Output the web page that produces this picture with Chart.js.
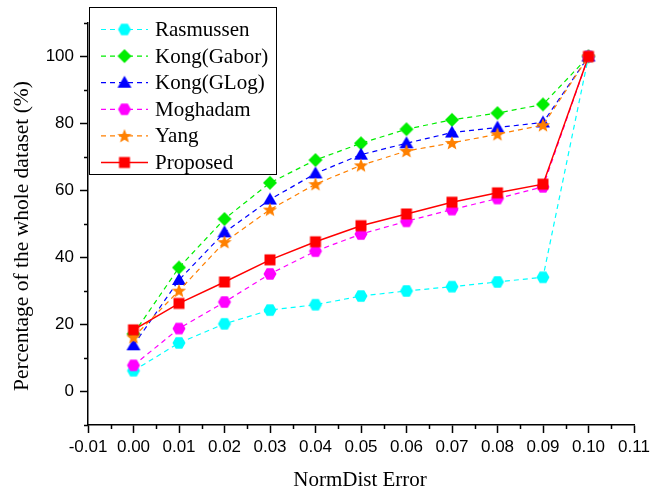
<!DOCTYPE html>
<html>
<head>
<meta charset="utf-8">
<script src="https://cdn.jsdelivr.net/npm/chart.js@4.4.1/dist/chart.umd.min.js"></script>
<style>
  html, body { margin: 0; padding: 0; background: #fff; }
  #wrap { width: 662px; height: 491px; position: relative; }
</style>
</head>
<body>
<div id="wrap"><canvas id="myChart"></canvas></div>
<script>
// data
var xValues = [0.00, 0.01, 0.02, 0.03, 0.04, 0.05, 0.06, 0.07, 0.08, 0.09, 0.10];
var rasmussen = [6.2, 14.5, 20.2, 24.3, 25.9, 28.5, 30.0, 31.3, 32.7, 34.1, 100];
var kongGabor = [17.2, 37.0, 51.5, 62.3, 69.1, 74.1, 78.3, 81.1, 83.1, 85.7, 100];
var kongGLog = [13.8, 33.3, 47.5, 57.3, 65.1, 70.7, 74.1, 77.3, 78.8, 80.3, 100];
var moghadam = [7.8, 18.8, 26.7, 35.1, 41.9, 47.0, 50.8, 54.3, 57.6, 61.1, 100];
var yang = [16.2, 30.1, 44.6, 54.3, 61.9, 67.5, 71.8, 74.2, 76.8, 79.5, 100];
var proposed = [18.4, 26.3, 32.7, 39.3, 44.7, 49.5, 53.0, 56.5, 59.3, 61.9, 100];

var seriesNames = ['Rasmussen', 'Kong(Gabor)', 'Kong(GLog)', 'Moghadam', 'Yang', 'Proposed'];
var xTickLabels = ['-0.01', '0.00', '0.01', '0.02', '0.03', '0.04', '0.05', '0.06', '0.07', '0.08', '0.09', '0.10', '0.11'];
var yTickLabels = [0, 20, 40, 60, 80, 100];
var xTitle = 'NormDist Error';
var yTitle = 'Percentage of the whole dataset (%)';

// marker images
function marker(shape, color) {
  var c = document.createElement('canvas');
  c.width = 18; c.height = 18;
  var g = c.getContext('2d');
  var cx = 9, cy = 9, i, a;
  g.fillStyle = color;
  g.beginPath();
  if (shape === 'hex') {
    for (i = 0; i < 6; i++) {
      a = i * Math.PI / 3;
      g.lineTo(cx + 6.5 * Math.cos(a), cy + 6.5 * Math.sin(a));
    }
  } else if (shape === 'star') {
    for (i = 0; i < 10; i++) {
      a = -Math.PI / 2 + i * Math.PI / 5;
      var r = i % 2 === 0 ? 7.5 : 3.2;
      g.lineTo(cx + r * Math.cos(a), cy + 0.5 + r * Math.sin(a));
    }
  } else if (shape === 'diamond') {
    g.moveTo(cx, cy - 7); g.lineTo(cx + 7, cy); g.lineTo(cx, cy + 7); g.lineTo(cx - 7, cy);
  } else if (shape === 'triangle') {
    g.moveTo(cx, cy - 7); g.lineTo(cx + 7, cy + 5); g.lineTo(cx - 7, cy + 5);
  } else {
    g.rect(cx - 5.5, cy - 5.5, 11, 11);
  }
  g.closePath();
  g.fill();
  return c;
}

var colors = ['#00ffff', '#00ee00', '#0000ff', '#ff00ff', '#ff8000', '#ff0000'];
var shapes = ['hex', 'diamond', 'triangle', 'hex', 'star', 'square'];
var allSeries = [rasmussen, kongGabor, kongGLog, moghadam, yang, proposed];

function isMajorX(v) { return Math.round(v * 1000) % 10 === 0; }
function xLabel(v) { var s = (Math.round(v * 1000) / 1000).toFixed(2); return s === '-0.00' ? '0.00' : s; }

var datasets = allSeries.map(function(vals, i) {
  var img = marker(shapes[i], colors[i]);
  return {
    label: seriesNames[i],
    data: vals.map(function(v, j) { return {x: xValues[j], y: v}; }),
    borderColor: colors[i],
    backgroundColor: colors[i],
    borderWidth: i === 5 ? 1.5 : 1.2,
    borderDash: i === 5 ? [] : [5, 4],
    pointStyle: img,
    pointRadius: 7,
    order: 5 - i,
    tension: 0
  };
});

var minorTicks = {
  id: 'minorTicks',
  afterDraw: function(chart) {
    var ctx = chart.ctx, area = chart.chartArea;
    var xs = chart.scales.x, ys = chart.scales.y;
    ctx.save();
    ctx.strokeStyle = '#000';
    ctx.lineWidth = 1.5;
    xs.ticks.forEach(function(t) {
      if (!isMajorX(t.value)) {
        var px = Math.round(xs.getPixelForValue(t.value)) + 0.5;
        ctx.beginPath(); ctx.moveTo(px, area.bottom); ctx.lineTo(px, area.bottom + 4); ctx.stroke();
      }
    });
    ys.ticks.forEach(function(t) {
      if (yTickLabels.indexOf(Math.round(t.value)) < 0) {
        var py = Math.round(ys.getPixelForValue(t.value)) + 0.5;
        ctx.beginPath(); ctx.moveTo(area.left, py); ctx.lineTo(area.left - 4, py); ctx.stroke();
      }
    });
    ctx.restore();
  }
};

// axis titles, placed like the original figure
var axisTitles = {
  id: 'axisTitles',
  afterDraw: function(chart) {
    var ctx = chart.ctx, area = chart.chartArea;
    ctx.save();
    ctx.fillStyle = '#000';
    ctx.font = '21px "Liberation Serif"';
    ctx.textAlign = 'center';
    ctx.textBaseline = 'middle';
    ctx.fillText(xTitle, (area.left + area.right) / 2 - 1, 480);
    ctx.translate(22, 236);
    ctx.rotate(-Math.PI / 2);
    ctx.font = '21.5px "Liberation Serif"';
    ctx.fillText(yTitle, 0, 0);
    ctx.restore();
  }
};

var boxLegend = {
  id: 'boxLegend',
  afterDraw: function(chart) {
    var ctx = chart.ctx;
    ctx.save();
    ctx.fillStyle = '#fff';
    ctx.fillRect(89.5, 7.5, 187, 167);
    ctx.strokeStyle = '#000';
    ctx.lineWidth = 1;
    ctx.strokeRect(89.5, 7.5, 187, 167);
    ctx.font = '21px "Liberation Serif"';
    ctx.textBaseline = 'middle';
    chart.data.datasets.forEach(function(ds, i) {
      var y = 29.5 + i * 26.6;
      ctx.strokeStyle = ds.borderColor;
      ctx.lineWidth = ds.borderWidth;
      ctx.setLineDash(ds.borderDash);
      ctx.beginPath(); ctx.moveTo(101, y); ctx.lineTo(148, y); ctx.stroke();
      ctx.setLineDash([]);
      ctx.drawImage(ds.pointStyle, 124.5 - 9, y - 9);
      ctx.fillStyle = '#000';
      ctx.fillText(ds.label, 155, y + 1);
    });
    ctx.restore();
  }
};

var ctx = document.getElementById('myChart');
var myChart = new Chart(ctx, {
  type: 'line',
  data: { datasets: datasets },
  options: {
    responsive: true,
    maintainAspectRatio: false,
    animation: false,
    layout: { padding: { top: 23, right: 28, left: 0, bottom: 0 } },
    plugins: {
      legend: { display: false },
      tooltip: { enabled: false }
    },
    scales: {
      x: {
        type: 'linear',
        min: -0.01,
        max: 0.11,
        afterFit: function(scale) { scale.height = 66; },
        border: { display: true, color: '#000', width: 1.5 },
        grid: {
          drawOnChartArea: false,
          drawTicks: true,
          tickLength: 8,
          tickWidth: 1.5,
          tickColor: function(c) { return c.tick && isMajorX(c.tick.value) ? '#000' : 'rgba(0,0,0,0)'; }
        },
        ticks: {
          stepSize: 0.005,
          autoSkip: false,
          maxRotation: 0,
          padding: 4,
          color: '#000',
          font: { family: 'Liberation Sans', size: 17 },
          callback: function(value) {
            var s = xLabel(value);
            return isMajorX(value) && xTickLabels.indexOf(s) >= 0 ? s : '';
          }
        }
      },
      y: {
        min: -10,
        max: 110,
        afterFit: function(scale) { scale.width = 88; },
        border: { display: true, color: '#000', width: 1.5 },
        grid: {
          drawOnChartArea: false,
          drawTicks: true,
          tickLength: 8,
          tickWidth: 1.5,
          tickColor: function(c) { return c.tick && yTickLabels.indexOf(Math.round(c.tick.value)) >= 0 ? '#000' : 'rgba(0,0,0,0)'; }
        },
        ticks: {
          stepSize: 10,
          autoSkip: false,
          padding: 6,
          color: '#000',
          font: { family: 'Liberation Sans', size: 17 },
          callback: function(value) {
            return yTickLabels.indexOf(Math.round(value)) >= 0 ? String(Math.round(value)) : '';
          }
        }
      }
    }
  },
  plugins: [minorTicks, axisTitles, boxLegend]
});
</script>
</body>
</html>
